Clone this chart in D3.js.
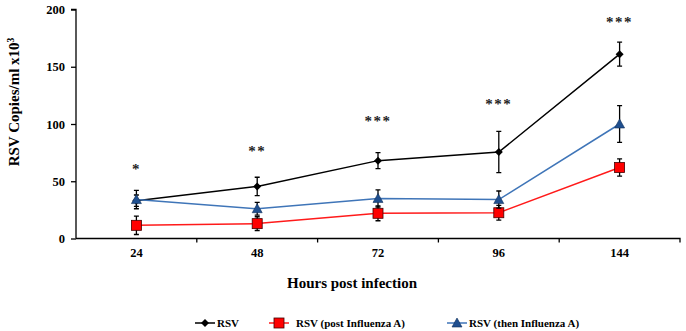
<!DOCTYPE html>
<html><head><meta charset="utf-8">
<script src="https://cdn.jsdelivr.net/npm/d3@7"></script>
<style>body{margin:0;background:#fff}svg{display:block}text{font-family:"Liberation Serif","Times New Roman",serif;font-weight:bold}</style>
</head><body><svg id="c" width="686" height="331"></svg>
<script>
const categories = ["24","48","72","96","144"];
const rsv = [33, 45.5, 68, 75.5, 161];
const rsvErr = [5, 8, 7, 18, 10.5];
const postFlu = [11.5, 13, 22, 22.5, 62];
const postFluErr = [8, 6, 6.5, 6.5, 7.5];
const thenFlu = [34, 26, 35, 34, 100];
const thenFluErr = [8, 5.5, 7.5, 7.5, 16];
const stars = ["*","**","***","***","***"];
const starLevel = [64, 80, 106.5, 121, 193];
const yTicks = [0, 50, 100, 150, 200];
const seriesNames = ["RSV","RSV (post Influenza A)","RSV (then Influenza A)"];

const svg = d3.select("#c");
const m = {l:76, r:680, t:9.5, b:238.5};
const x = d3.scaleBand().domain(categories).range([m.l, m.r]);
const y = d3.scaleLinear().domain([0,200]).range([m.b, m.t]);
const cx = c => x(c) + x.bandwidth()/2;

// y axis
const ya = svg.append("g").attr("transform",`translate(${m.l},0)`)
  .call(d3.axisLeft(y).tickValues(yTicks).tickSize(5).tickPadding(6));
ya.select(".domain").attr("stroke","#000").attr("stroke-width",1.3).attr("d",`M-5,${m.t}H0V${m.b}`);
ya.selectAll(".tick line").attr("stroke-width",1.3);
ya.selectAll("text").attr("font-size",12.5).attr("fill","#000");

// x axis
const xa = svg.append("g").attr("transform",`translate(0,${m.b})`)
  .call(d3.axisBottom(x).tickSize(0).tickPadding(10));
xa.select(".domain").attr("stroke","#000").attr("stroke-width",1.3).attr("d",`M${m.l},0H${m.r}V4`);
xa.selectAll("text").attr("font-size",12.5).attr("fill","#000");
xa.selectAll(".sep").data(categories.slice(1)).enter().append("line")
  .attr("x1",d=>x(d)).attr("x2",d=>x(d)).attr("y1",0).attr("y2",4).attr("stroke","#000").attr("stroke-width",1.3);

// axis titles
svg.append("text").attr("x",352).attr("y",288).attr("text-anchor","middle").attr("font-size",15).text("Hours post infection");
svg.append("text").attr("transform","translate(19,102) rotate(-90)").attr("text-anchor","middle").attr("font-size",15)
  .text("RSV Copies/ml x10").append("tspan").attr("font-size",9.5).attr("dy",-5).text("3");

const series = [
  {vals:rsv, err:rsvErr, color:"#000", marker:"diamond"},
  {vals:postFlu, err:postFluErr, color:"#ff1a1a", marker:"square"},
  {vals:thenFlu, err:thenFluErr, color:"#3f75b8", marker:"triangle"}
];
const line = d3.line().x((d,i)=>cx(categories[i])).y(d=>y(d));

function drawMarker(g, type, px, py) {
  if (type==="diamond") g.append("path").attr("d",`M${px},${py-4}L${px+4},${py}L${px},${py+4}L${px-4},${py}Z`).attr("fill","#000");
  else if (type==="square") g.append("rect").attr("x",px-5).attr("y",py-5).attr("width",10).attr("height",10).attr("fill","#ff0000").attr("stroke","#400").attr("stroke-width",0.8);
  else g.append("path").attr("d",`M${px},${py-5}L${px+5},${py+4}L${px-5},${py+4}Z`).attr("fill","#1f4f8f").attr("stroke","#10305a").attr("stroke-width",0.6);
}

series.forEach(s => {
  const g = svg.append("g");
  g.append("path").datum(s.vals).attr("d",line).attr("fill","none").attr("stroke",s.color).attr("stroke-width",1.5);
  s.vals.forEach((v,i)=>{
    const px = cx(categories[i]);
    const t = y(v + s.err[i]), b = y(v - s.err[i]);
    g.append("path").attr("d",`M${px},${t}V${b}M${px-2.5},${t}H${px+2.5}M${px-2.5},${b}H${px+2.5}`)
      .attr("stroke","#000").attr("stroke-width",1.3).attr("fill","none");
  });
  s.vals.forEach((v,i)=>drawMarker(g, s.marker, cx(categories[i]), y(v)));
});

// significance stars
svg.selectAll(".star").data(stars).enter().append("text")
  .attr("x",(d,i)=>cx(categories[i])).attr("y",(d,i)=>y(starLevel[i])+9)
  .attr("text-anchor","middle").attr("font-size",15).attr("letter-spacing",1.5).attr("fill","#222").text(d=>d);

// legend
const leg = [{x:195, name:seriesNames[0], s:series[0]},{x:269, name:seriesNames[1], s:series[1]},{x:447, name:seriesNames[2], s:series[2]}];
leg.forEach(l=>{
  const g = svg.append("g");
  const ly = 323;
  g.append("line").attr("x1",l.x).attr("x2",l.x+20).attr("y1",ly).attr("y2",ly).attr("stroke",l.s.color).attr("stroke-width",1.5);
  drawMarker(g, l.s.marker, l.x+10, ly);
  g.append("text").attr("x",l.x+(l.s.marker==="square"?27:22)).attr("y",ly+4).attr("font-size",11).text(l.name);
});
</script></body></html>
